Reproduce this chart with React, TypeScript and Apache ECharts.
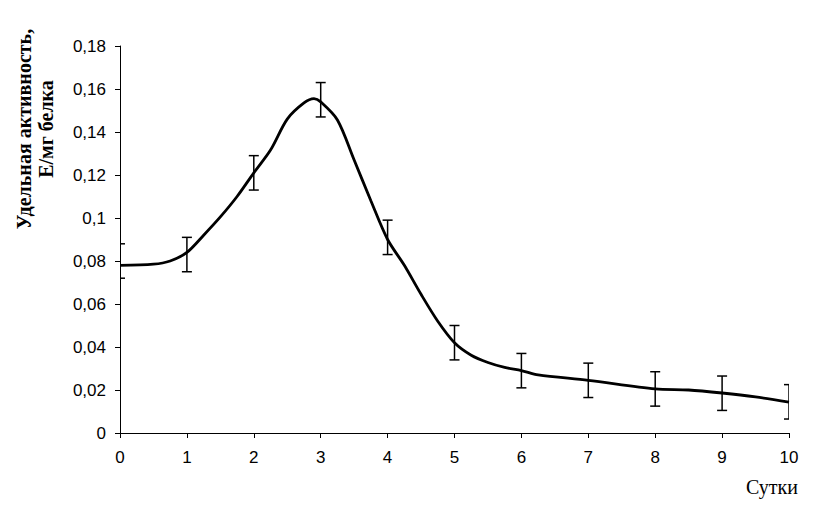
import React, { useEffect, useRef } from "react";
import * as echarts from "echarts";

const days = [0, 1, 2, 3, 4, 5, 6, 7, 8, 9, 10];
const means = [0.08, 0.083, 0.121, 0.155, 0.091, 0.042, 0.029, 0.0245, 0.0205, 0.0185, 0.0145];
const errors = [0.008, 0.008, 0.008, 0.008, 0.008, 0.008, 0.008, 0.008, 0.008, 0.008, 0.008];

const curveX = [0, 0.5, 0.75, 1, 1.25, 1.5, 1.75, 2, 2.25, 2.5, 2.75, 2.9, 3, 3.25, 3.5, 3.75, 4, 4.25, 4.5, 4.75, 5, 5.25, 5.5, 5.75, 6, 6.25, 7, 8, 8.5, 9, 9.5, 10];
const curveY = [0.078, 0.0785, 0.08, 0.084, 0.092, 0.1005, 0.11, 0.121, 0.1316, 0.146, 0.1535, 0.1555, 0.154, 0.1456, 0.127, 0.108, 0.09, 0.078, 0.0645, 0.052, 0.042, 0.0362, 0.0328, 0.0305, 0.029, 0.027, 0.0245, 0.0205, 0.02, 0.0186, 0.0168, 0.0144];

const yAxisTitle = ["Удельная активность,", "Е/мг белка"];
const xAxisTitle = "Сутки";

export default function App() {
  const ref = useRef<HTMLDivElement>(null);
  useEffect(() => {
    if (!ref.current) return;
    const chart = echarts.init(ref.current, null, { renderer: "svg" });
    const errData = days.map((d, i) => [d, means[i] - errors[i], means[i] + errors[i]]);
    chart.setOption({
      animation: false,
      backgroundColor: "#ffffff",
      grid: { left: 120, right: 37, top: 46, bottom: 85 },
      xAxis: {
        type: "value",
        min: 0,
        max: 10,
        interval: 1,
        axisLine: { show: true, lineStyle: { color: "#000", width: 1 } },
        axisTick: { show: true, inside: false, length: 5, lineStyle: { color: "#000" } },
        splitLine: { show: false },
        axisLabel: { color: "#000", fontSize: 17, fontFamily: "Liberation Sans", margin: 16 },
      },
      yAxis: {
        type: "value",
        min: 0,
        max: 0.18,
        interval: 0.02,
        axisLine: { show: true, lineStyle: { color: "#000", width: 1 } },
        axisTick: { show: true, inside: false, length: 5, lineStyle: { color: "#000" } },
        splitLine: { show: false },
        axisLabel: {
          color: "#000",
          fontSize: 17,
          fontFamily: "Liberation Sans",
          margin: 14,
          formatter: (v: number) => parseFloat(v.toFixed(2)).toString().replace(".", ","),
        },
      },
      graphic: [
        {
          type: "text",
          x: 35,
          y: 129,
          rotation: Math.PI / 2,
          style: {
            text: yAxisTitle.join("\n"),
            font: "bold 20px 'Liberation Serif'",
            fill: "#000",
            align: "center",
            verticalAlign: "middle",
            lineHeight: 22,
          },
        },
        {
          type: "text",
          x: 746,
          y: 487,
          style: {
            text: xAxisTitle,
            font: "20px 'Liberation Serif'",
            fill: "#000",
            align: "left",
            verticalAlign: "middle",
          },
        },
      ],
      series: [
        {
          type: "line",
          data: curveX.map((x, i) => [x, curveY[i]]),
          smooth: 0.3,
          showSymbol: false,
          lineStyle: { color: "#000", width: 2.8 },
          z: 3,
        },
        {
          type: "custom",
          clip: true,
          data: errData,
          renderItem: (params: any, api: any) => {
            const x = api.value(0);
            const lo = api.coord([x, api.value(1)]);
            const hi = api.coord([x, api.value(2)]);
            const w = 5;
            const style = { stroke: "#000", lineWidth: 1.5 };
            return {
              type: "group",
              children: [
                { type: "line", shape: { x1: lo[0], y1: lo[1], x2: hi[0], y2: hi[1] }, style },
                { type: "line", shape: { x1: lo[0] - w, y1: lo[1], x2: lo[0] + w, y2: lo[1] }, style },
                { type: "line", shape: { x1: hi[0] - w, y1: hi[1], x2: hi[0] + w, y2: hi[1] }, style },
              ],
            };
          },
          z: 4,
        },
      ],
    });
    return () => chart.dispose();
  }, []);
  return (
    <div
      ref={ref}
      style={{ position: "absolute", left: 0, top: 0, width: 826, height: 518 }}
    />
  );
}
